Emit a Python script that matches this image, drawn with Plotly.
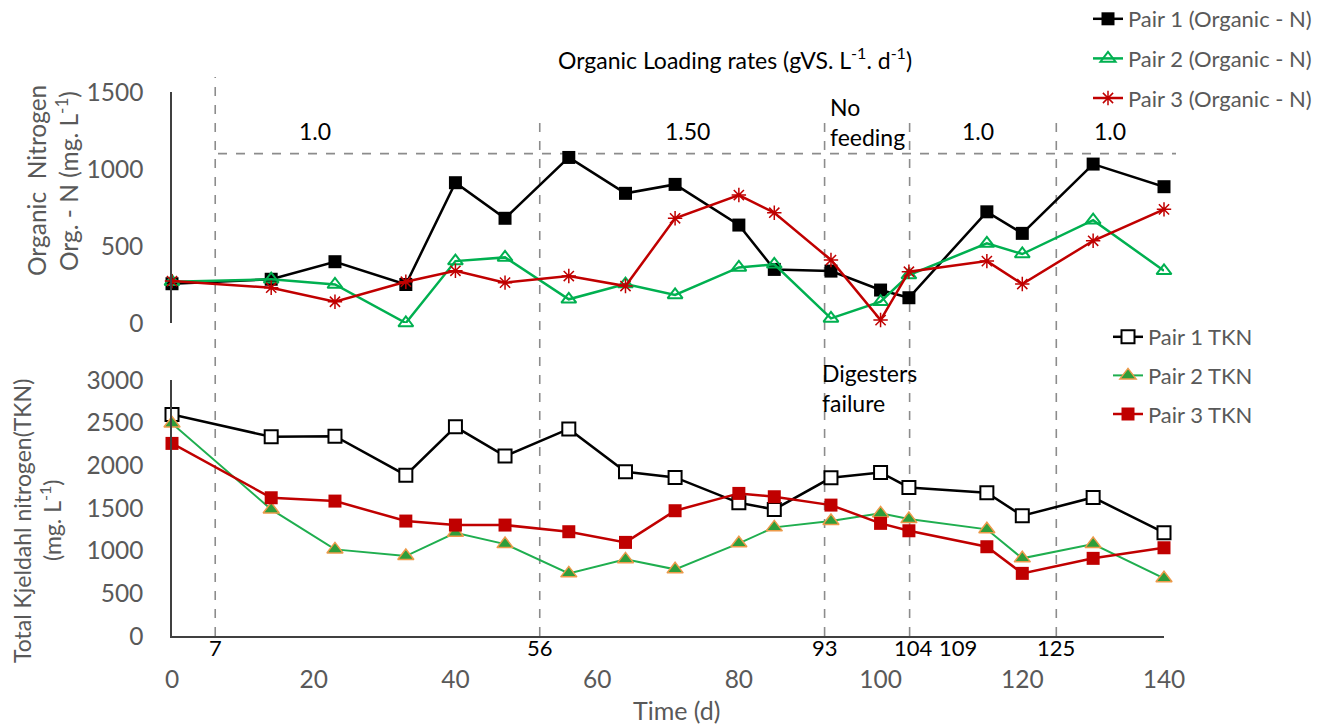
import plotly.graph_objects as go

# ---------------- data ----------------
days = [0, 14, 23, 33, 40, 47, 56, 64, 71, 80, 85, 93, 100, 104, 115, 120, 130, 140]

org_pair1 = [255, 284, 398, 250, 911, 680, 1075, 842, 900, 636, 348, 337, 214, 164, 722, 582, 1032, 885]
org_pair2 = [268, 284, 250, 0, 402, 426, 154, 253, 182, 361, 381, 30, 138, 311, 517, 448, 668, 339]
org_pair3 = [272, 229, 138, 268, 339, 262, 305, 240, 680, 831, 716, 409, 19, 333, 402, 253, 534, 738]

tkn_pair1 = [2596, 2334, 2342, 1885, 2451, 2108, 2427, 1924, 1858, 1561, 1483, 1854, 1917, 1741, 1678, 1409, 1624, 1210]
tkn_pair2 = [2491, 1483, 1015, 937, 1210, 1077, 734, 898, 781, 1086, 1273, 1347, 1437, 1370, 1250, 910, 1077, 676]
tkn_pair3 = [2257, 1620, 1581, 1347, 1300, 1300, 1222, 1097, 1468, 1671, 1632, 1534, 1320, 1233, 1046, 734, 910, 1034]

# phase boundary lines (positions as drawn) and their labels
phase_line_pos = [6.1, 51.9, 92.1, 104.1, 124.8]
phase_label_pos = [6.1, 51.9, 92.1, 104.6, 110.9, 124.8]
phase_label_txt = ["7", "56", "93", "104", "109", "125"]

# organic loading rates per phase
olr_pos = [20.2, 72.7, 113.7, 132.4]
olr_txt = ["1.0", "1.50", "1.0", "1.0"]
olr_level = 1100

x_ticks = [0, 20, 40, 60, 80, 100, 120, 140]
org_ticks = [0, 500, 1000, 1500]
tkn_ticks = [0, 500, 1000, 1500, 2000, 2500, 3000]

# ---------------- style ----------------
FONT = "Lato"
GRAY = "#595959"
BLACK = "#000000"
GREEN = "#00B050"
RED = "#C00000"
DASH = "#8C8C8C"

W, H = 1333, 724
ML, MR, MT, MB = 172, 169, 92, 88
PW, PH = W - ML - MR, H - MT - MB


def px(xp):
    return (xp - ML) / PW


def py(yp):
    return (H - MB - yp) / PH


fig = go.Figure()

# top panel: organic N
fig.add_trace(go.Scatter(
    x=days, y=org_pair1, name="Pair 1 (Organic - N)", mode="lines+markers",
    line=dict(color=BLACK, width=2.5),
    marker=dict(symbol="square", size=13, color=BLACK),
    xaxis="x", yaxis="y", legend="legend", legendgroup="a", cliponaxis=False))
fig.add_trace(go.Scatter(
    x=days, y=org_pair2, name="Pair 2 (Organic - N)", mode="lines+markers",
    line=dict(color=GREEN, width=2.5),
    marker=dict(symbol="triangle-up-open", size=13, color=GREEN, line=dict(width=2, color=GREEN)),
    xaxis="x", yaxis="y", legend="legend", legendgroup="b", cliponaxis=False))
fig.add_trace(go.Scatter(
    x=days, y=org_pair3, name="Pair 3 (Organic - N)", mode="lines+markers",
    line=dict(color=RED, width=2.5),
    marker=dict(symbol="asterisk-open", size=12, color=RED, line=dict(width=1.5, color=RED)),
    xaxis="x", yaxis="y", legend="legend", legendgroup="c", cliponaxis=False))

# bottom panel: TKN
fig.add_trace(go.Scatter(
    x=days, y=tkn_pair1, name="Pair 1 TKN", mode="lines+markers",
    line=dict(color=BLACK, width=2.5),
    marker=dict(symbol="square", size=13, color="white", line=dict(width=2, color=BLACK)),
    xaxis="x2", yaxis="y2", legend="legend2", legendgroup="d", cliponaxis=False))
fig.add_trace(go.Scatter(
    x=days, y=tkn_pair2, name="Pair 2 TKN", mode="lines+markers",
    line=dict(color="#1FAE4F", width=2),
    marker=dict(symbol="triangle-up", size=14, color="#2E9E3A", line=dict(width=1.5, color="#ED9A4A")),
    xaxis="x2", yaxis="y2", legend="legend2", legendgroup="e", cliponaxis=False))
fig.add_trace(go.Scatter(
    x=days, y=tkn_pair3, name="Pair 3 TKN", mode="lines+markers",
    line=dict(color=RED, width=2.5),
    marker=dict(symbol="square", size=13, color=RED),
    xaxis="x2", yaxis="y2", legend="legend2", legendgroup="f", cliponaxis=False))

shapes = []
# vertical phase lines spanning both panels
top_start = {6.1: py(77)}
for p in phase_line_pos:
    shapes.append(dict(type="line", xref="x2", yref="paper", x0=p, x1=p,
                       y0=0, y1=top_start.get(p, py(122)),
                       line=dict(color=DASH, width=1.6, dash="dash"), layer="below"))
# horizontal loading-rate line in top panel
shapes.append(dict(type="line", xref="paper", yref="y",
                   x0=px(218), x1=px(1176), y0=olr_level, y1=olr_level,
                   line=dict(color=DASH, width=1.6, dash="dash"), layer="below"))

ann = []
ann.append(dict(text="Organic Loading rates (gVS. L<sup>-1</sup>. d<sup>-1</sup>)",
                xref="paper", yref="paper", x=px(735), y=py(58), showarrow=False,
                font=dict(family=FONT, size=23, color=BLACK), xanchor="center", yanchor="middle"))
for p, t in zip(olr_pos, olr_txt):
    ann.append(dict(text=t, xref="x", yref="paper", x=p, y=py(131), showarrow=False,
                    font=dict(family=FONT, size=23, color=BLACK), xanchor="center", yanchor="middle"))
ann.append(dict(text="No<br>feeding", xref="paper", yref="paper", x=px(828), y=py(122),
                showarrow=False, font=dict(family=FONT, size=23, color=BLACK), align="left",
                xanchor="left", yanchor="middle"))
ann.append(dict(text="Digesters<br>failure", xref="paper", yref="paper", x=px(820), y=py(388),
                showarrow=False, font=dict(family=FONT, size=23, color=BLACK), align="left",
                xanchor="left", yanchor="middle"))
for p, t in zip(phase_label_pos, phase_label_txt):
    ann.append(dict(text=t, xref="x2", yref="paper", x=p, y=py(647), showarrow=False,
                    font=dict(family=FONT, size=22, color=BLACK), xanchor="center", yanchor="middle"))
# axis titles
ann.append(dict(text="Organic  Nitrogen", xref="paper", yref="paper", x=px(36), y=py(181),
                textangle=-90, showarrow=False, font=dict(family=FONT, size=24.5, color=GRAY),
                xanchor="center", yanchor="middle"))
ann.append(dict(text="Org. - N (mg. L<sup>-1</sup>)", xref="paper", yref="paper", x=px(67), y=py(181),
                textangle=-90, showarrow=False, font=dict(family=FONT, size=24.5, color=GRAY),
                xanchor="center", yanchor="middle"))
ann.append(dict(text="Total Kjeldahl nitrogen(TKN)", xref="paper", yref="paper", x=px(22), y=py(521),
                textangle=-90, showarrow=False, font=dict(family=FONT, size=23, color=GRAY),
                xanchor="center", yanchor="middle"))
ann.append(dict(text="(mg. L<sup>-1</sup>)", xref="paper", yref="paper", x=px(50), y=py(521),
                textangle=-90, showarrow=False, font=dict(family=FONT, size=23, color=GRAY),
                xanchor="center", yanchor="middle"))
ann.append(dict(text="Time (d)", xref="paper", yref="paper", x=px(677), y=py(710),
                showarrow=False, font=dict(family=FONT, size=25, color=GRAY),
                xanchor="center", yanchor="middle"))

tick_font = dict(family=FONT, size=24.5, color=GRAY)

fig.update_layout(
    width=W, height=H,
    margin=dict(l=ML, r=MR, t=MT, b=MB, autoexpand=False),
    paper_bgcolor="white", plot_bgcolor="white",
    font=dict(family=FONT, color=GRAY),
    shapes=shapes, annotations=ann,
    xaxis=dict(domain=[0, 1], range=[0, 140], anchor="y", visible=False, showgrid=False),
    yaxis=dict(domain=[py(323), 1], range=[0, 1500], anchor="x", tickvals=org_ticks,
               showline=True, linecolor="#404040", linewidth=1.5, showgrid=False, zeroline=False,
               ticks="", tickfont=tick_font, ticklabelstandoff=22),
    xaxis2=dict(domain=[0, 1], range=[0, 140], anchor="y2", tickvals=x_ticks,
                showline=True, linecolor="#404040", linewidth=1.5, showgrid=False, zeroline=False,
                ticks="", tickfont=tick_font, ticklabelstandoff=21),
    yaxis2=dict(domain=[0, py(380)], range=[0, 3000], anchor="x2", tickvals=tkn_ticks,
                showline=True, linecolor="#404040", linewidth=1.5, showgrid=False, zeroline=False,
                ticks="", tickfont=tick_font, ticklabelstandoff=22),
    legend=dict(x=px(1088), y=py(-2), xanchor="left", yanchor="top",
                font=dict(family=FONT, size=22, color=GRAY), bgcolor="rgba(0,0,0,0)",
                tracegroupgap=8, itemwidth=30),
    legend2=dict(x=px(1108), y=py(316), xanchor="left", yanchor="top",
                 font=dict(family=FONT, size=22, color=GRAY), bgcolor="rgba(0,0,0,0)",
                 tracegroupgap=7, itemwidth=30),
    showlegend=True,
)

fig.write_html("out.html")
